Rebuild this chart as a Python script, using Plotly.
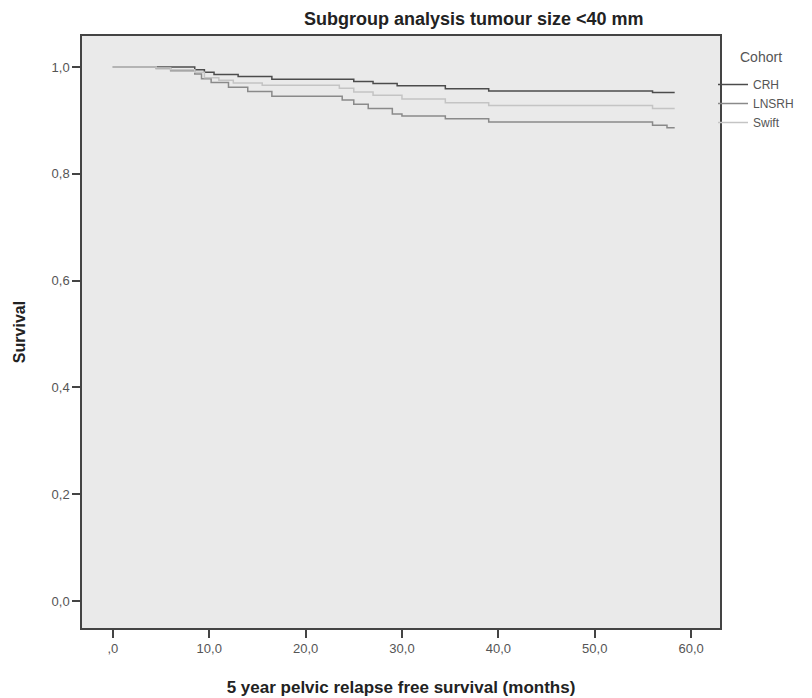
import plotly.graph_objects as go

# Kaplan-Meier step data (months, survival)
crh_t = [0, 8.5, 9.5, 10.5, 13.0, 16.5, 25.0, 27.0, 29.5, 34.5, 39.0, 56.0, 58.3]
crh_s = [1.0, 0.995, 0.990, 0.986, 0.982, 0.977, 0.973, 0.969, 0.965, 0.959, 0.955, 0.952, 0.952]

lnsrh_t = [0, 4.5, 6.0, 8.5, 9.2, 10.2, 12.0, 14.0, 16.5, 23.8, 25.0, 26.5, 29.0, 30.0, 34.5, 39.0, 56.0, 57.5, 58.3]
lnsrh_s = [1.0, 0.997, 0.993, 0.987, 0.978, 0.971, 0.962, 0.954, 0.945, 0.938, 0.930, 0.922, 0.912, 0.908, 0.903, 0.897, 0.891, 0.886, 0.886]

swift_t = [0, 4.5, 6.0, 8.5, 9.5, 11.0, 12.5, 15.5, 23.5, 25.0, 27.0, 30.0, 34.5, 39.0, 56.0, 58.3]
swift_s = [1.0, 0.998, 0.995, 0.990, 0.980, 0.975, 0.970, 0.966, 0.960, 0.953, 0.947, 0.940, 0.933, 0.928, 0.922, 0.922]

x_ticks = [0, 10, 20, 30, 40, 50, 60]
x_labels = [",0", "10,0", "20,0", "30,0", "40,0", "50,0", "60,0"]
y_ticks = [0, 0.2, 0.4, 0.6, 0.8, 1.0]
y_labels = ["0,0", "0,2", "0,4", "0,6", "0,8", "1,0"]

series = [
    ("CRH", crh_t, crh_s, "#4c4c4c"),
    ("LNSRH", lnsrh_t, lnsrh_s, "#8a8a8a"),
    ("Swift", swift_t, swift_s, "#c4c4c4"),
]

fig = go.Figure()
for name, t, s, col in series:
    fig.add_trace(go.Scatter(x=t, y=s, mode="lines", name=name,
                             line=dict(color=col, width=1.5, shape="hv")))

# the page body has an 8px margin, so the figure is sized to fit the window
W, H = 804, 690
L, R, T, B = 74, 92, 28, 70
PW, PH = W - L - R, H - T - B

fig.update_layout(
    width=W, height=H,
    margin=dict(l=L, r=R, t=T, b=B, autoexpand=False),
    paper_bgcolor="white",
    plot_bgcolor="#eaeaea",
    font=dict(family="Liberation Sans, Arial, sans-serif", color="#555555", size=12),
    showlegend=True,
    legend=dict(
        x=(705 - L) / PW, xanchor="left", y=1 - (62 - T) / PH, yanchor="top",
        bgcolor="rgba(0,0,0,0)", font=dict(size=12, color="#555555"),
        itemwidth=30, tracegroupgap=0,
    ),
    annotations=[
        dict(text="<b>Subgroup analysis tumour size &lt;40 mm</b>",
             x=(466 - L) / PW, xref="paper",
             y=1, yref="paper", showarrow=False, font=dict(size=18, color="#222222"),
             xanchor="center", yanchor="bottom", yshift=5),
        dict(text="Cohort", x=(730 - L) / PW, xref="paper", xanchor="left",
             y=1 - (49 - T) / PH, yref="paper", yanchor="middle", showarrow=False,
             font=dict(size=14, color="#555555")),
    ],
)

fig.update_xaxes(
    range=[-3.2, 63.0], tickvals=x_ticks, ticktext=x_labels, automargin=False,
    showgrid=False, zeroline=False, showline=True, mirror=True,
    linecolor="#444444", linewidth=1.5, ticks="outside", ticklen=8,
    tickcolor="#444444", tickwidth=1.5,
    tickfont=dict(size=13, color="#555555"),
    title=dict(text="<b>5 year pelvic relapse free survival (months)</b>",
               font=dict(size=17, color="#222222"), standoff=26),
)
fig.update_yaxes(
    range=[-0.0506, 1.058], tickvals=y_ticks, ticktext=y_labels, automargin=False,
    showgrid=False, zeroline=False, showline=True, mirror=True,
    linecolor="#444444", linewidth=1.5, ticks="outside", ticklen=8,
    tickcolor="#444444", tickwidth=1.5,
    tickfont=dict(size=13, color="#555555"),
    title=dict(text="<b>Survival</b>", font=dict(size=16, color="#222222"), standoff=22),
)

fig.write_html("out.html")
